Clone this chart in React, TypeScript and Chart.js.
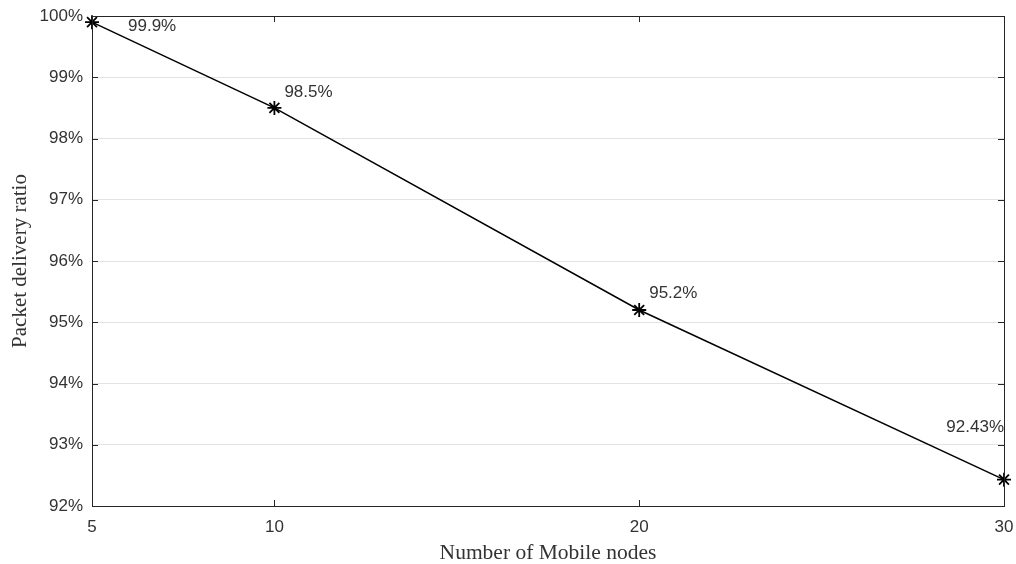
import React, { useEffect, useRef } from "react";
import { Chart, registerables } from "chart.js";

Chart.register(...registerables);

const nodes = [5, 10, 20, 30];
const pdr = [99.9, 98.5, 95.2, 92.43];
const pdrLabels = ["99.9%", "98.5%", "95.2%", "92.43%"];
const xTickValues = [5, 10, 20, 30];
const yMin = 92;
const yMax = 100;

// label offsets relative to marker (dx, dy, align)
const labelOffsets: [number, number, CanvasTextAlign][] = [
  [36, 4, "left"],
  [10, -16, "left"],
  [10, -17, "left"],
  [0, -52, "right"],
];

const framePlugin = {
  id: "frame",
  afterDatasetsDraw(chart: any) {
    const { ctx, chartArea: a, scales } = chart;
    ctx.save();
    // data labels
    ctx.font = "17px 'Liberation Sans', Arial, sans-serif";
    ctx.fillStyle = "#333333";
    ctx.textBaseline = "middle";
    const meta = chart.getDatasetMeta(0);
    meta.data.forEach((pt: any, i: number) => {
      const [dx, dy, al] = labelOffsets[i];
      ctx.textAlign = al;
      ctx.fillText(pdrLabels[i], pt.x + dx, pt.y + dy);
    });
    // frame
    ctx.strokeStyle = "#262626";
    ctx.lineWidth = 1;
    ctx.strokeRect(Math.round(a.left) + 0.5, Math.round(a.top) + 0.5, Math.round(a.right - a.left), Math.round(a.bottom - a.top));
    // inward ticks
    const tl = 6;
    ctx.beginPath();
    xTickValues.forEach((v) => {
      const x = Math.round(scales.x.getPixelForValue(v)) + 0.5;
      ctx.moveTo(x, a.bottom);
      ctx.lineTo(x, a.bottom - tl);
      ctx.moveTo(x, a.top);
      ctx.lineTo(x, a.top + tl);
    });
    for (let v = yMin; v <= yMax; v++) {
      const y = Math.round(scales.y.getPixelForValue(v)) + 0.5;
      ctx.moveTo(a.left, y);
      ctx.lineTo(a.left + tl, y);
      ctx.moveTo(a.right, y);
      ctx.lineTo(a.right - tl, y);
    }
    ctx.stroke();
    ctx.restore();
  },
};

export default function App() {
  const ref = useRef<HTMLCanvasElement | null>(null);
  useEffect(() => {
    if (!ref.current) return;
    const chart = new Chart(ref.current, {
      type: "line",
      data: {
        datasets: [
          {
            data: nodes.map((x, i) => ({ x, y: pdr[i] })),
            borderColor: "#000000",
            borderWidth: 1.5,
            pointStyle: "star",
            pointRadius: 7,
            pointBorderWidth: 1.8,
            pointBorderColor: "#000000",
            pointBackgroundColor: "#000000",
            tension: 0,
            clip: false as any,
          },
        ],
      },
      options: {
        animation: false,
        responsive: false,
        maintainAspectRatio: false,
        layout: { padding: { left: 0, right: 12, top: 16, bottom: 0 } },
        plugins: { legend: { display: false }, tooltip: { enabled: false } },
        scales: {
          x: {
            type: "linear",
            min: 5,
            max: 30,
            afterBuildTicks: (s: any) => {
              s.ticks = xTickValues.map((v) => ({ value: v }));
            },
            afterFit: (s: any) => {
              s.height = 58;
              s.paddingLeft = 0;
              s.paddingRight = 0;
            },
            grid: { display: false, drawTicks: false },
            border: { display: false },
            ticks: {
              padding: 11,
              color: "#333333",
              font: { family: "'Liberation Sans', Arial, sans-serif", size: 17 },
              maxRotation: 0,
              autoSkip: false,
            },
            title: {
              display: true,
              text: "Number of Mobile nodes",
              color: "#333333",
              font: { family: "'Liberation Serif', 'Times New Roman', serif", size: 21.5, lineHeight: 1 },
              padding: { top: 0, bottom: 0 },
            },
          },
          y: {
            min: yMin,
            max: yMax,
            afterFit: (s: any) => {
              s.width = 92;
              s.paddingTop = 0;
              s.paddingBottom = 0;
            },
            grid: { color: "#e3e3e3", drawTicks: false, lineWidth: 1 },
            border: { display: false },
            ticks: {
              stepSize: 1,
              padding: 9,
              color: "#333333",
              font: { family: "'Liberation Sans', Arial, sans-serif", size: 17 },
              callback: (v: any) => v + "%",
            },
            title: {
              display: true,
              text: "Packet delivery ratio",
              color: "#333333",
              font: { family: "'Liberation Serif', 'Times New Roman', serif", size: 21, lineHeight: 1 },
              padding: { top: 10, bottom: 0 },
            },
          },
        },
      },
      plugins: [framePlugin],
    });
    return () => chart.destroy();
  }, []);
  return (
    <div style={{ position: "fixed", left: 0, top: 0, width: 1016, height: 564, background: "#fff" }}>
      <canvas ref={ref} width={1016} height={564} style={{ width: 1016, height: 564 }} />
    </div>
  );
}
